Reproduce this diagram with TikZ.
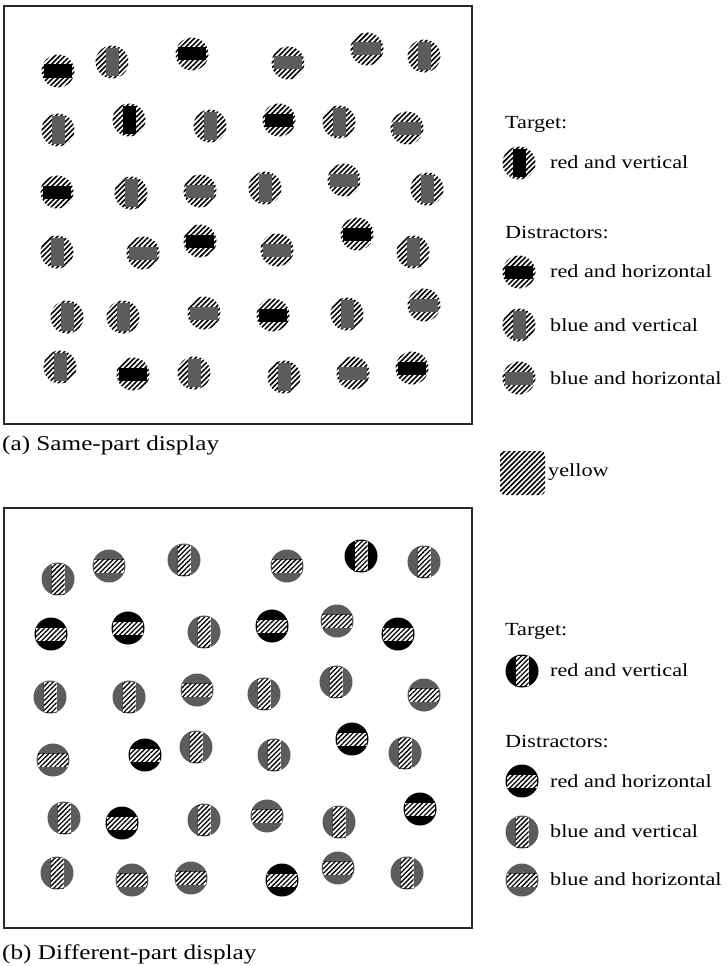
\documentclass[tikz,border=0pt]{standalone}
\usepackage{fontspec}
\setmainfont[FakeStretch=1.2]{Liberation Serif}
\usetikzlibrary{patterns.meta}

\definecolor{partred}{RGB}{0,0,0}
\definecolor{partblue}{RGB}{92,92,92}
\definecolor{framegray}{RGB}{40,40,40}

\newcommand{\legendfont}{\fontsize{18.5}{22}\selectfont}
\newcommand{\capfont}{\fontsize{21}{25}\selectfont}

\begin{document}
\begin{tikzpicture}[x=1pt, y=-1pt,
  yellowhatch/.style={pattern={Lines[angle=45,distance=3.6pt,line width=1.6pt]}, pattern color=black},
  barhatch/.style={pattern={Lines[angle=45,distance=3.4pt,line width=1.3pt]}, pattern color=black},
  frame/.style={draw=framegray, line width=1.6pt},
  legendtext/.style={anchor=base west, inner sep=0pt, font=\legendfont},
  captiontext/.style={anchor=base west, inner sep=0pt, font=\capfont},
  pics/samepart/.style n args={3}{code={
    \fill[yellowhatch] (0,0) circle (16.5);
    \fill[fill=#1] (-#2,-#3) rectangle (#2,#3);}},
  pics/diffpart/.style n args={3}{code={
    \fill[fill=#1] (0,0) circle (16.5);
    \fill[white] (-#2,-#3) rectangle (#2,#3);
    \fill[barhatch] (-#2,-#3) rectangle (#2,#3);}}]
\useasboundingbox (0,0) rectangle (726,966);

% (a) Same-part display
\draw[frame] (4,6) rectangle (472,424);
\foreach \x/\y in {58/71, 192/54, 279/120, 57/192, 200/241, 357/234, 273/315, 133/374, 412/368}
  \pic at (\x,\y) {samepart={partred}{14}{6.5}};
\pic at (129,120) {samepart={partred}{6.5}{14}};
\foreach \x/\y in {112/62, 424/56, 58/130, 210/126, 339/122, 131/193, 265/188, 427/189,
                   57/252, 413/252, 67/317, 123/317, 347/314, 60/367, 194/373, 284/377}
  \pic at (\x,\y) {samepart={partblue}{6.5}{14}};
\foreach \x/\y in {288/63, 367/49, 407/128, 200/191, 344/180, 143/253, 277/250, 204/313,
                   424/305, 353/373}
  \pic at (\x,\y) {samepart={partblue}{14}{6.5}};
\node[captiontext] (capa) at (2,450) {(a) Same-part display};

% legend (a)
\node[legendtext] (targeta) at (505,128) {Target:};
\pic at (519,163) {samepart={partred}{6.5}{14}};
\node[legendtext] (rva) at (550,168) {red and vertical};
\node[legendtext] (distra) at (505,238) {Distractors:};
\pic at (519,272) {samepart={partred}{14}{6.5}};
\node[legendtext] (rha) at (550,277) {red and horizontal};
\pic at (519,325) {samepart={partblue}{6.5}{14}};
\node[legendtext] (bva) at (550,331) {blue and vertical};
\pic at (519,378) {samepart={partblue}{14}{6.5}};
\node[legendtext] (bha) at (550,384) {blue and horizontal};
\fill[yellowhatch, rounded corners=4pt] (500,451) rectangle (545,495);
\node[legendtext] (yel) at (548,476) {yellow};

% (b) Different-part display
\draw[frame] (4,508) rectangle (472,928);
\foreach \x/\y in {51/634, 128/628, 272/626, 398/634, 145/755, 352/739, 122/823, 420/809, 282/880}
  \pic at (\x,\y) {diffpart={partred}{15}{6.5}};
\pic at (361,556) {diffpart={partred}{6.5}{15}};
\foreach \x/\y in {58/579, 184/560, 424/562, 204/632, 50/697, 129/697, 264/694, 336/682,
                   196/747, 274/755, 405/753, 64/818, 204/820, 339/822, 57/873, 407/873}
  \pic at (\x,\y) {diffpart={partblue}{6.5}{15}};
\foreach \x/\y in {109/566, 287/566, 337/621, 197/690, 424/695, 53/760, 267/816, 132/880,
                   191/878, 338/868}
  \pic at (\x,\y) {diffpart={partblue}{15}{6.5}};
\node[captiontext] (capb) at (2,959) {(b) Different-part display};

% legend (b)
\node[legendtext] (targetb) at (505,635) {Target:};
\pic at (522,671) {diffpart={partred}{6.5}{15}};
\node[legendtext] (rvb) at (550,676) {red and vertical};
\node[legendtext] (distrb) at (505,747) {Distractors:};
\pic at (522,781) {diffpart={partred}{15}{6.5}};
\node[legendtext] (rhb) at (550,787) {red and horizontal};
\pic at (522,832) {diffpart={partblue}{6.5}{15}};
\node[legendtext] (bvb) at (550,837) {blue and vertical};
\pic at (522,880) {diffpart={partblue}{15}{6.5}};
\node[legendtext] (bhb) at (550,885) {blue and horizontal};
\end{tikzpicture}
\end{document}
